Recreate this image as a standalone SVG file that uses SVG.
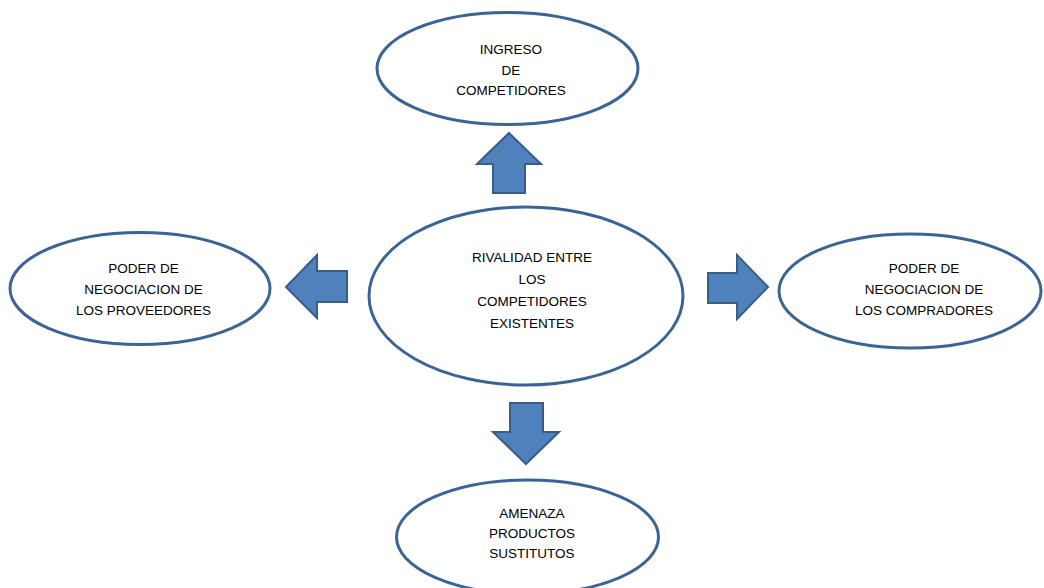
<svg xmlns="http://www.w3.org/2000/svg" width="1044" height="588" viewBox="0 0 1044 588">
<style>
.node ellipse{fill:#ffffff;stroke:#3B6496;stroke-width:3}
.arrow{fill:#4F81BD;stroke:#385D8A;stroke-width:2;stroke-linejoin:miter}
text{font-family:"Liberation Sans",Arial,sans-serif;font-size:13.5px;fill:#000;text-anchor:middle}
</style>
<rect width="1044" height="588" fill="#ffffff"/>
<g id="connectors">
<polygon class="arrow" points="509,133 541,164 525,164 525,193 493,193 493,164 477,164"/>
<polygon class="arrow" points="286,287 317,255 317,271 347,271 347,302 317,302 317,318"/>
<polygon class="arrow" points="768,287 737,255 737,273 708,273 708,303 737,303 737,319"/>
<polygon class="arrow" points="526,464 559,432 543,432 543,403 510,403 510,432 493,432"/>
</g>
<g id="node-ingreso" class="node">
<ellipse cx="507.5" cy="68.5" rx="130.5" ry="56"/>
<text x="511" y="54">INGRESO</text>
<text x="511" y="74.5">DE</text>
<text x="511" y="95">COMPETIDORES</text>
</g>
<g id="node-rivalidad" class="node">
<ellipse cx="526" cy="296" rx="157" ry="89"/>
<text x="532" y="262">RIVALIDAD ENTRE</text>
<text x="532" y="284">LOS</text>
<text x="532" y="306">COMPETIDORES</text>
<text x="532" y="328">EXISTENTES</text>
</g>
<g id="node-proveedores" class="node">
<ellipse cx="140" cy="288.5" rx="130" ry="56"/>
<text x="143.5" y="273">PODER DE</text>
<text x="143.5" y="294">NEGOCIACION DE</text>
<text x="143.5" y="315">LOS PROVEEDORES</text>
</g>
<g id="node-compradores" class="node">
<ellipse cx="910" cy="291" rx="131" ry="57"/>
<text x="924" y="273">PODER DE</text>
<text x="924" y="294">NEGOCIACION DE</text>
<text x="924" y="315">LOS COMPRADORES</text>
</g>
<g id="node-sustitutos" class="node">
<ellipse cx="527.5" cy="537" rx="131" ry="57"/>
<text x="532" y="518">AMENAZA</text>
<text x="532" y="538">PRODUCTOS</text>
<text x="532" y="558">SUSTITUTOS</text>
</g>
</svg>
